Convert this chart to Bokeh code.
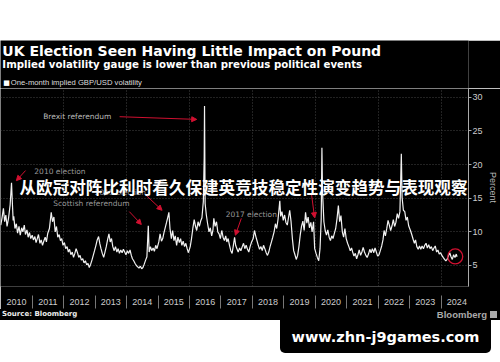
from datetime import datetime
from bokeh.plotting import figure
from bokeh.models import (Range1d, FixedTicker, DatetimeTickFormatter, Label, Arrow,
                          NormalHead, Spacer, Div, ColumnDataSource)
from bokeh.layouts import column
from bokeh.embed import file_html
from bokeh.resources import INLINE

# ---------------- data ----------------
dates = [
    "2010-01-01", "2010-01-15", "2010-02-01", "2010-02-15", "2010-03-01", "2010-03-15", "2010-04-01", "2010-04-20",
    "2010-05-06", "2010-05-15", "2010-05-25", "2010-06-01", "2010-06-15", "2010-07-01", "2010-07-15", "2010-08-01",
    "2010-08-15", "2010-09-01", "2010-09-15", "2010-10-01", "2010-10-15", "2010-11-01", "2010-11-15", "2010-12-01",
    "2010-12-15",
    "2011-01-01", "2011-01-15", "2011-02-01", "2011-02-15", "2011-03-01", "2011-03-15", "2011-04-01", "2011-04-15",
    "2011-05-01", "2011-05-15", "2011-06-01", "2011-06-15", "2011-07-01", "2011-07-20", "2011-08-10", "2011-08-25",
    "2011-09-10", "2011-09-25", "2011-10-10", "2011-10-25", "2011-11-10", "2011-11-25", "2011-12-10", "2011-12-25",
    "2012-01-10", "2012-01-25", "2012-02-10", "2012-02-25", "2012-03-10", "2012-03-25", "2012-04-10", "2012-04-25",
    "2012-05-10", "2012-05-25", "2012-06-10", "2012-06-25", "2012-07-10", "2012-07-25", "2012-08-10", "2012-08-25",
    "2012-09-10", "2012-09-25", "2012-10-10", "2012-10-25", "2012-11-10", "2012-11-25", "2012-12-10", "2012-12-25",
    "2013-01-10", "2013-01-25", "2013-02-10", "2013-02-25", "2013-03-10", "2013-03-25", "2013-04-10", "2013-04-25",
    "2013-05-10", "2013-05-25", "2013-06-10", "2013-06-25", "2013-07-10", "2013-07-25", "2013-08-10", "2013-08-25",
    "2013-09-10", "2013-09-25", "2013-10-10", "2013-10-25", "2013-11-10", "2013-11-25", "2013-12-10", "2013-12-25",
    "2014-01-10", "2014-01-25", "2014-02-10", "2014-02-25", "2014-03-10", "2014-03-25", "2014-04-10", "2014-04-25",
    "2014-05-10", "2014-05-25", "2014-06-10", "2014-06-25", "2014-07-10", "2014-07-25", "2014-08-10", "2014-08-25",
    "2014-09-10", "2014-09-20", "2014-10-05", "2014-10-20", "2014-11-05", "2014-11-20", "2014-12-05", "2014-12-20",
    "2015-01-10", "2015-01-25", "2015-02-10", "2015-02-25", "2015-03-10", "2015-03-25", "2015-04-10", "2015-04-25",
    "2015-05-07", "2015-05-20", "2015-06-05", "2015-06-20", "2015-07-05", "2015-07-20", "2015-08-05", "2015-08-20",
    "2015-09-05", "2015-09-20", "2015-10-05", "2015-10-20", "2015-11-05", "2015-11-20", "2015-12-05", "2015-12-20",
    "2016-01-10", "2016-01-25", "2016-02-10", "2016-02-25", "2016-03-10", "2016-03-25", "2016-04-10", "2016-04-25",
    "2016-05-10", "2016-05-25", "2016-06-10", "2016-06-20", "2016-06-24", "2016-07-01", "2016-07-15", "2016-07-30",
    "2016-08-15", "2016-08-30", "2016-09-15", "2016-09-30", "2016-10-10", "2016-10-25", "2016-11-10", "2016-11-25",
    "2016-12-10", "2016-12-25",
    "2017-01-10", "2017-01-25", "2017-02-10", "2017-02-25", "2017-03-10", "2017-03-25", "2017-04-10", "2017-04-25",
    "2017-05-10", "2017-05-25", "2017-06-08", "2017-06-20", "2017-07-05", "2017-07-20", "2017-08-05", "2017-08-20",
    "2017-09-05", "2017-09-20", "2017-10-05", "2017-10-20", "2017-11-05", "2017-11-20", "2017-12-05", "2017-12-20",
    "2018-01-10", "2018-01-25", "2018-02-10", "2018-02-25", "2018-03-10", "2018-03-25", "2018-04-10", "2018-04-25",
    "2018-05-10", "2018-05-25", "2018-06-10", "2018-06-25", "2018-07-10", "2018-07-25", "2018-08-10", "2018-08-25",
    "2018-09-10", "2018-09-25", "2018-10-10", "2018-10-25", "2018-11-15", "2018-11-25", "2018-12-10", "2018-12-25",
    "2019-01-10", "2019-01-25", "2019-02-10", "2019-02-25", "2019-03-10", "2019-03-25", "2019-04-10", "2019-04-25",
    "2019-05-10", "2019-05-25", "2019-06-10", "2019-06-25", "2019-07-10", "2019-07-25", "2019-08-10", "2019-08-25",
    "2019-09-10", "2019-09-25", "2019-10-10", "2019-10-25", "2019-11-10", "2019-11-25", "2019-12-12", "2019-12-25",
    "2020-01-10", "2020-01-25", "2020-02-10", "2020-02-25", "2020-03-10", "2020-03-18", "2020-03-25", "2020-04-10",
    "2020-04-25", "2020-05-10", "2020-05-25", "2020-06-10", "2020-06-25", "2020-07-10", "2020-07-25", "2020-08-10",
    "2020-08-25", "2020-09-10", "2020-09-25", "2020-10-10", "2020-10-25", "2020-11-10", "2020-11-25", "2020-12-10",
    "2020-12-25",
    "2021-01-10", "2021-01-25", "2021-02-10", "2021-02-25", "2021-03-10", "2021-03-25", "2021-04-10", "2021-04-25",
    "2021-05-10", "2021-05-25", "2021-06-10", "2021-06-25", "2021-07-10", "2021-07-25", "2021-08-10", "2021-08-25",
    "2021-09-10", "2021-09-25", "2021-10-10", "2021-10-25", "2021-11-10", "2021-11-25", "2021-12-10", "2021-12-25",
    "2022-01-10", "2022-01-25", "2022-02-10", "2022-02-25", "2022-03-10", "2022-03-25", "2022-04-10", "2022-04-25",
    "2022-05-10", "2022-05-25", "2022-06-10", "2022-06-25", "2022-07-10", "2022-07-25", "2022-08-10", "2022-08-25",
    "2022-09-10", "2022-09-26", "2022-10-05", "2022-10-20", "2022-11-05", "2022-11-20", "2022-12-05", "2022-12-20",
    "2023-01-10", "2023-01-25", "2023-02-10", "2023-02-25", "2023-03-10", "2023-03-25", "2023-04-10", "2023-04-25",
    "2023-05-10", "2023-05-25", "2023-06-10", "2023-06-25", "2023-07-10", "2023-07-25", "2023-08-10", "2023-08-25",
    "2023-09-10", "2023-09-25", "2023-10-10", "2023-10-25", "2023-11-10", "2023-11-25", "2023-12-10", "2023-12-25",
    "2024-01-10", "2024-01-25", "2024-02-10", "2024-02-25", "2024-03-10", "2024-03-25", "2024-04-10", "2024-04-25",
    "2024-05-10", "2024-05-25", "2024-06-10", "2024-06-25", "2024-07-04",
]
vol = [
    11.0, 12.0, 13.5, 11.5, 12.5, 10.8, 12.0, 14.0,
    17.3, 14.5, 11.7, 12.3, 10.5, 11.2, 9.8, 10.8,
    9.5, 10.6, 10.0, 11.0, 9.6, 10.3, 9.2, 9.9,
    9.0,
    9.5, 8.8, 9.3, 8.4, 9.0, 9.6, 8.3, 8.8,
    8.0, 8.6, 9.2, 8.5, 9.8, 10.5, 12.9, 11.5,
    12.2, 10.0, 10.8, 9.2, 9.6, 8.7, 9.0, 8.0,
    8.4, 7.5, 7.8, 7.0, 7.4, 6.6, 7.0, 6.2,
    6.8, 7.5, 6.9, 6.2, 6.5, 5.8, 6.0, 5.4,
    5.7, 5.1, 5.3, 4.7, 5.2, 5.8, 6.5, 7.2,
    8.0, 8.8, 9.3, 8.2, 7.5, 6.8, 6.2, 7.0,
    7.8, 8.8, 9.7, 8.5, 9.0, 7.8, 7.2, 7.8,
    7.0, 7.5, 6.8, 7.3, 6.9, 7.4, 7.0, 6.6,
    7.2, 6.8, 7.3, 6.5, 6.0, 5.7, 5.3, 5.0,
    4.8, 4.6, 4.9, 4.5, 4.7, 5.2, 5.8, 6.3,
    10.9, 7.0, 7.8, 7.2, 7.6, 7.1, 8.0, 7.5,
    8.5, 9.7, 8.6, 9.0, 9.8, 10.6, 11.4, 12.2,
    12.9, 10.5, 9.0, 10.2, 8.7, 9.4, 8.0, 9.2,
    8.4, 9.0, 8.0, 8.6, 7.8, 8.3, 7.5, 6.9,
    7.8, 9.0, 10.6, 11.8, 10.9, 10.2, 11.5, 10.8,
    11.6, 12.1, 14.5, 21.0, 28.7, 14.2, 12.5, 11.2,
    10.0, 10.6, 9.4, 10.3, 12.0, 10.8, 11.5, 10.0,
    9.7, 9.0,
    10.2, 9.2, 8.7, 9.4, 8.5, 9.0, 8.0, 7.2,
    6.8, 8.0, 9.2, 8.0, 7.5, 7.0, 7.6, 7.2,
    7.8, 8.3, 7.5, 8.0, 7.4, 7.0, 7.8, 8.4,
    9.0, 10.2, 9.3, 8.6, 8.0, 7.4, 7.8, 7.2,
    8.0, 7.5, 6.9, 6.5, 7.0, 7.8, 8.5, 9.2,
    10.0, 11.2, 10.5, 11.8, 14.6, 12.3, 13.0, 11.7,
    12.5, 11.4, 11.0, 12.2, 13.2, 11.6, 9.0, 7.2,
    6.6, 5.9, 6.5, 7.8, 9.5, 10.8, 11.6, 10.2,
    12.9, 11.3, 12.2, 10.6, 11.4, 10.0, 11.5, 7.5,
    6.8, 6.2, 5.7, 7.5, 12.0, 22.5, 16.0, 11.5,
    10.2, 9.5, 10.3, 9.2, 8.7, 9.4, 9.0, 9.8,
    10.5, 12.0, 13.9, 11.5, 12.4, 10.0, 9.2, 10.5,
    9.0,
    8.3, 7.8, 7.2, 7.6, 7.0, 6.4, 6.8, 6.0,
    6.6, 7.3, 6.5, 7.0, 7.7, 7.0, 6.5, 6.2,
    6.7, 7.4, 6.9, 7.5, 6.9, 7.6, 7.0, 6.4,
    6.6, 7.2, 7.9, 8.8, 10.2, 9.4, 10.5, 11.7,
    11.0, 10.2, 10.9, 11.8, 10.8, 11.4, 12.7, 12.0,
    13.0, 21.6, 15.1, 13.2, 13.0, 11.7, 12.2, 10.9,
    10.2, 9.6, 8.9, 8.3, 8.8, 7.8, 7.4, 7.9,
    7.4, 7.9, 7.5, 8.0, 8.3, 7.6, 8.1, 7.5,
    7.8, 7.2, 7.6, 7.9, 7.0, 7.3, 6.7, 6.9,
    6.5, 6.2, 5.9, 5.7, 5.9, 6.4, 6.9, 6.3,
    5.9, 6.6, 6.2, 6.7, 6.3,
]
years = list(range(2010, 2025))
y_ticks = [5, 10, 15, 20, 25, 30]
grid_years = [2012, 2014, 2016, 2018, 2020, 2022, 2024]

event_labels = ["2010 election", "Scottish referendum", "2015 election", "Brexit referendum", "2017 election"]
event_label_dates = ["2011-01-26", "2011-09-02", "2012-12-28", "2011-05-08", "2017-02-24"]
event_label_vals = [19.0, 14.2, 15.8, 27.1, 12.6]
arrow_from_dates = ["2010-10-16", "2014-02-02", "2014-08-18", "2013-10-12", "2017-08-25", "2019-11-17"]
arrow_from_vals = [19.1, 13.0, 15.4, 27.1, 12.0, 15.7]
arrow_to_dates = ["2010-07-01", "2014-06-21", "2015-02-17", "2016-03-25", "2017-06-17", "2019-12-24"]
arrow_to_vals = [17.6, 11.1, 13.2, 26.7, 9.5, 12.1]
latest_date = "2024-06-13"
latest_val = 6.34

title = "UK Election Seen Having Little Impact on Pound"
subtitle = "Implied volatility gauge is lower than previous political events"
series_name = "One-month implied GBP/USD volatility"
source_text = "Source: Bloomberg"
brand = "Bloomberg"
overlay = "从欧冠对阵比利时看久保建英竞技稳定性演变趋势与表现观察"
watermark = "www.zhn-j9games.com"

# ---------------- helpers ----------------
EPOCH = datetime(1970, 1, 1)


def ms(d):
    if isinstance(d, str):
        d = datetime.strptime(d, "%Y-%m-%d")
    return (d - EPOCH).total_seconds() * 1000.0


RED = "#d01030"
W = 500

# ---------------- header ----------------
head = figure(width=W, height=48, output_backend="svg", toolbar_location=None,
              x_axis_type=None, y_axis_type=None,
              x_range=Range1d(0, W), y_range=Range1d(48, 0), min_border=0)
head.background_fill_color = "black"
head.border_fill_color = "black"
head.outline_line_color = None
head.add_layout(Label(x=2, y=10, text=title, text_font="DejaVu Sans", text_font_style="bold",
                      text_font_size="14px", text_color="white", text_baseline="middle"))
head.add_layout(Label(x=2, y=24, text=subtitle, text_font="DejaVu Sans", text_font_style="bold",
                      text_font_size="10.2px", text_color="white", text_baseline="middle"))
head.add_layout(Label(x=3, y=42, text="■", text_font="DejaVu Sans", text_font_size="7px",
                      text_color="white", text_baseline="middle"))
head.add_layout(Label(x=11, y=42, text=series_name, text_font="Liberation Sans", text_font_size="7.7px",
                      text_color="#dddddd", text_baseline="middle"))

# ---------------- main chart ----------------
p = figure(width=W, height=221, output_backend="svg", toolbar_location=None,
           x_axis_type="datetime", y_axis_location="right",
           x_range=Range1d(ms("2009-12-29"), ms("2024-11-14")),
           y_range=Range1d(1.88, 31.29),
           min_border_left=0, min_border_right=27, min_border_top=0, min_border_bottom=23)
p.background_fill_color = "black"
p.border_fill_color = "black"
p.outline_line_color = None

src = ColumnDataSource(dict(x=[ms(d) for d in dates], y=vol))
line = p.line("x", "y", source=src, line_color="#f2f2f2", line_width=1.2)

# y axis (right)
p.yaxis.ticker = FixedTicker(ticks=y_ticks)
p.yaxis.axis_line_color = "#aaaaaa"
p.yaxis.major_tick_line_color = "#aaaaaa"
p.yaxis.major_tick_in = 0
p.yaxis.major_tick_out = 3
p.yaxis.minor_tick_line_color = None
p.yaxis.major_label_standoff = 1
p.yaxis.major_label_text_color = "#cccccc"
p.yaxis.major_label_text_font = "Liberation Sans"
p.yaxis.major_label_text_font_size = "9px"
p.yaxis.axis_label = "Percent"
p.yaxis.axis_label_standoff = 2
p.yaxis.axis_label_text_font = "Liberation Sans"
p.yaxis.axis_label_text_font_style = "normal"
p.yaxis.axis_label_text_font_size = "9px"
p.yaxis.axis_label_text_color = "#bbbbbb"

# x axis: labels mid-year, separators at year starts
p.xaxis.ticker = FixedTicker(ticks=[ms(datetime(y, 7, 2)) for y in years],
                             minor_ticks=[ms(datetime(y, 1, 1)) for y in years[1:]])
p.xaxis.formatter = DatetimeTickFormatter(years="%Y", months="%Y", days="%Y", hours="%Y",
                                          hourmin="%Y", minutes="%Y", minsec="%Y", seconds="%Y",
                                          milliseconds="%Y", microseconds="%Y")
p.xaxis.axis_line_color = None
p.xaxis.major_tick_line_color = None
p.xaxis.major_tick_out = 0
p.xaxis.major_tick_in = 0
p.xaxis.minor_tick_line_color = "#777777"
p.xaxis.minor_tick_in = -9
p.xaxis.minor_tick_out = 22
p.xaxis.major_label_standoff = -10
p.xaxis.major_label_text_color = "#cccccc"
p.xaxis.major_label_text_font = "Liberation Sans"
p.xaxis.major_label_text_font_size = "9px"

# grids
p.xgrid.ticker = FixedTicker(ticks=[ms(datetime(y, 1, 1)) for y in grid_years])
for g in (p.xgrid[0], p.ygrid[0]):
    g.grid_line_color = "#555555"
    g.grid_line_dash = "1 2"
    g.grid_line_width = 0.8

# annotations
for t, d, v in zip(event_labels, event_label_dates, event_label_vals):
    p.add_layout(Label(x=ms(d), y=v, text=t, text_font="DejaVu Sans", text_font_size="7.5px",
                       text_color="#bbbbbb" if t.startswith("Brexit") else "#999999",
                       text_baseline="middle", text_align="left"))
for d0, v0, d1, v1 in zip(arrow_from_dates, arrow_from_vals, arrow_to_dates, arrow_to_vals):
    p.add_layout(Arrow(x_start=ms(d0), y_start=v0, x_end=ms(d1), y_end=v1,
                       line_color=RED, line_width=1,
                       end=NormalHead(size=5, fill_color=RED, line_color=RED)))
p.scatter(x=[ms(latest_date)], y=[latest_val], marker="circle", size=15,
          fill_color=None, line_color=RED, line_width=1.3)

# overlay headline (screen position over the chart)
p.add_layout(Label(x=19, y=98, x_units="canvas", y_units="canvas", text=overlay,
                   text_font="Noto Sans CJK SC", text_font_style="bold", text_font_size="16.6px",
                   text_color="white", text_baseline="middle"))

# ---------------- footer (source line + watermark) ----------------
footer_html = (
    '<div style="position:relative;width:500px;height:11px;background:#000;">'
    '<span style="position:absolute;left:2px;top:0;font:bold 7px/11px \'DejaVu Sans\';color:#eeeeee;'
    'white-space:nowrap">' + source_text + '</span>'
    '<span style="position:absolute;right:13px;top:0;font:bold 9.5px/11px \'Liberation Sans\';color:#aaaaaa;'
    'white-space:nowrap">' + brand + '</span>'
    '<span style="position:absolute;left:490px;top:2px;width:7px;height:7px;background:#aaaaaa"></span>'
    '</div>'
    '<div style="margin-left:280px;width:211px;height:33px;background:#000;color:#fff;'
    'font:bold 14.5px \'DejaVu Sans\';display:flex;align-items:center;justify-content:center;'
    'border-radius:0 0 5px 5px">' + watermark + '</div>'
)

top = Spacer(width=W, height=40, margin=0)
bottom = Div(width=W, height=53, margin=0, text=footer_html)

layout = column(top, head, p, bottom, spacing=0)
open("out.html", "w").write(file_html(layout, INLINE))
